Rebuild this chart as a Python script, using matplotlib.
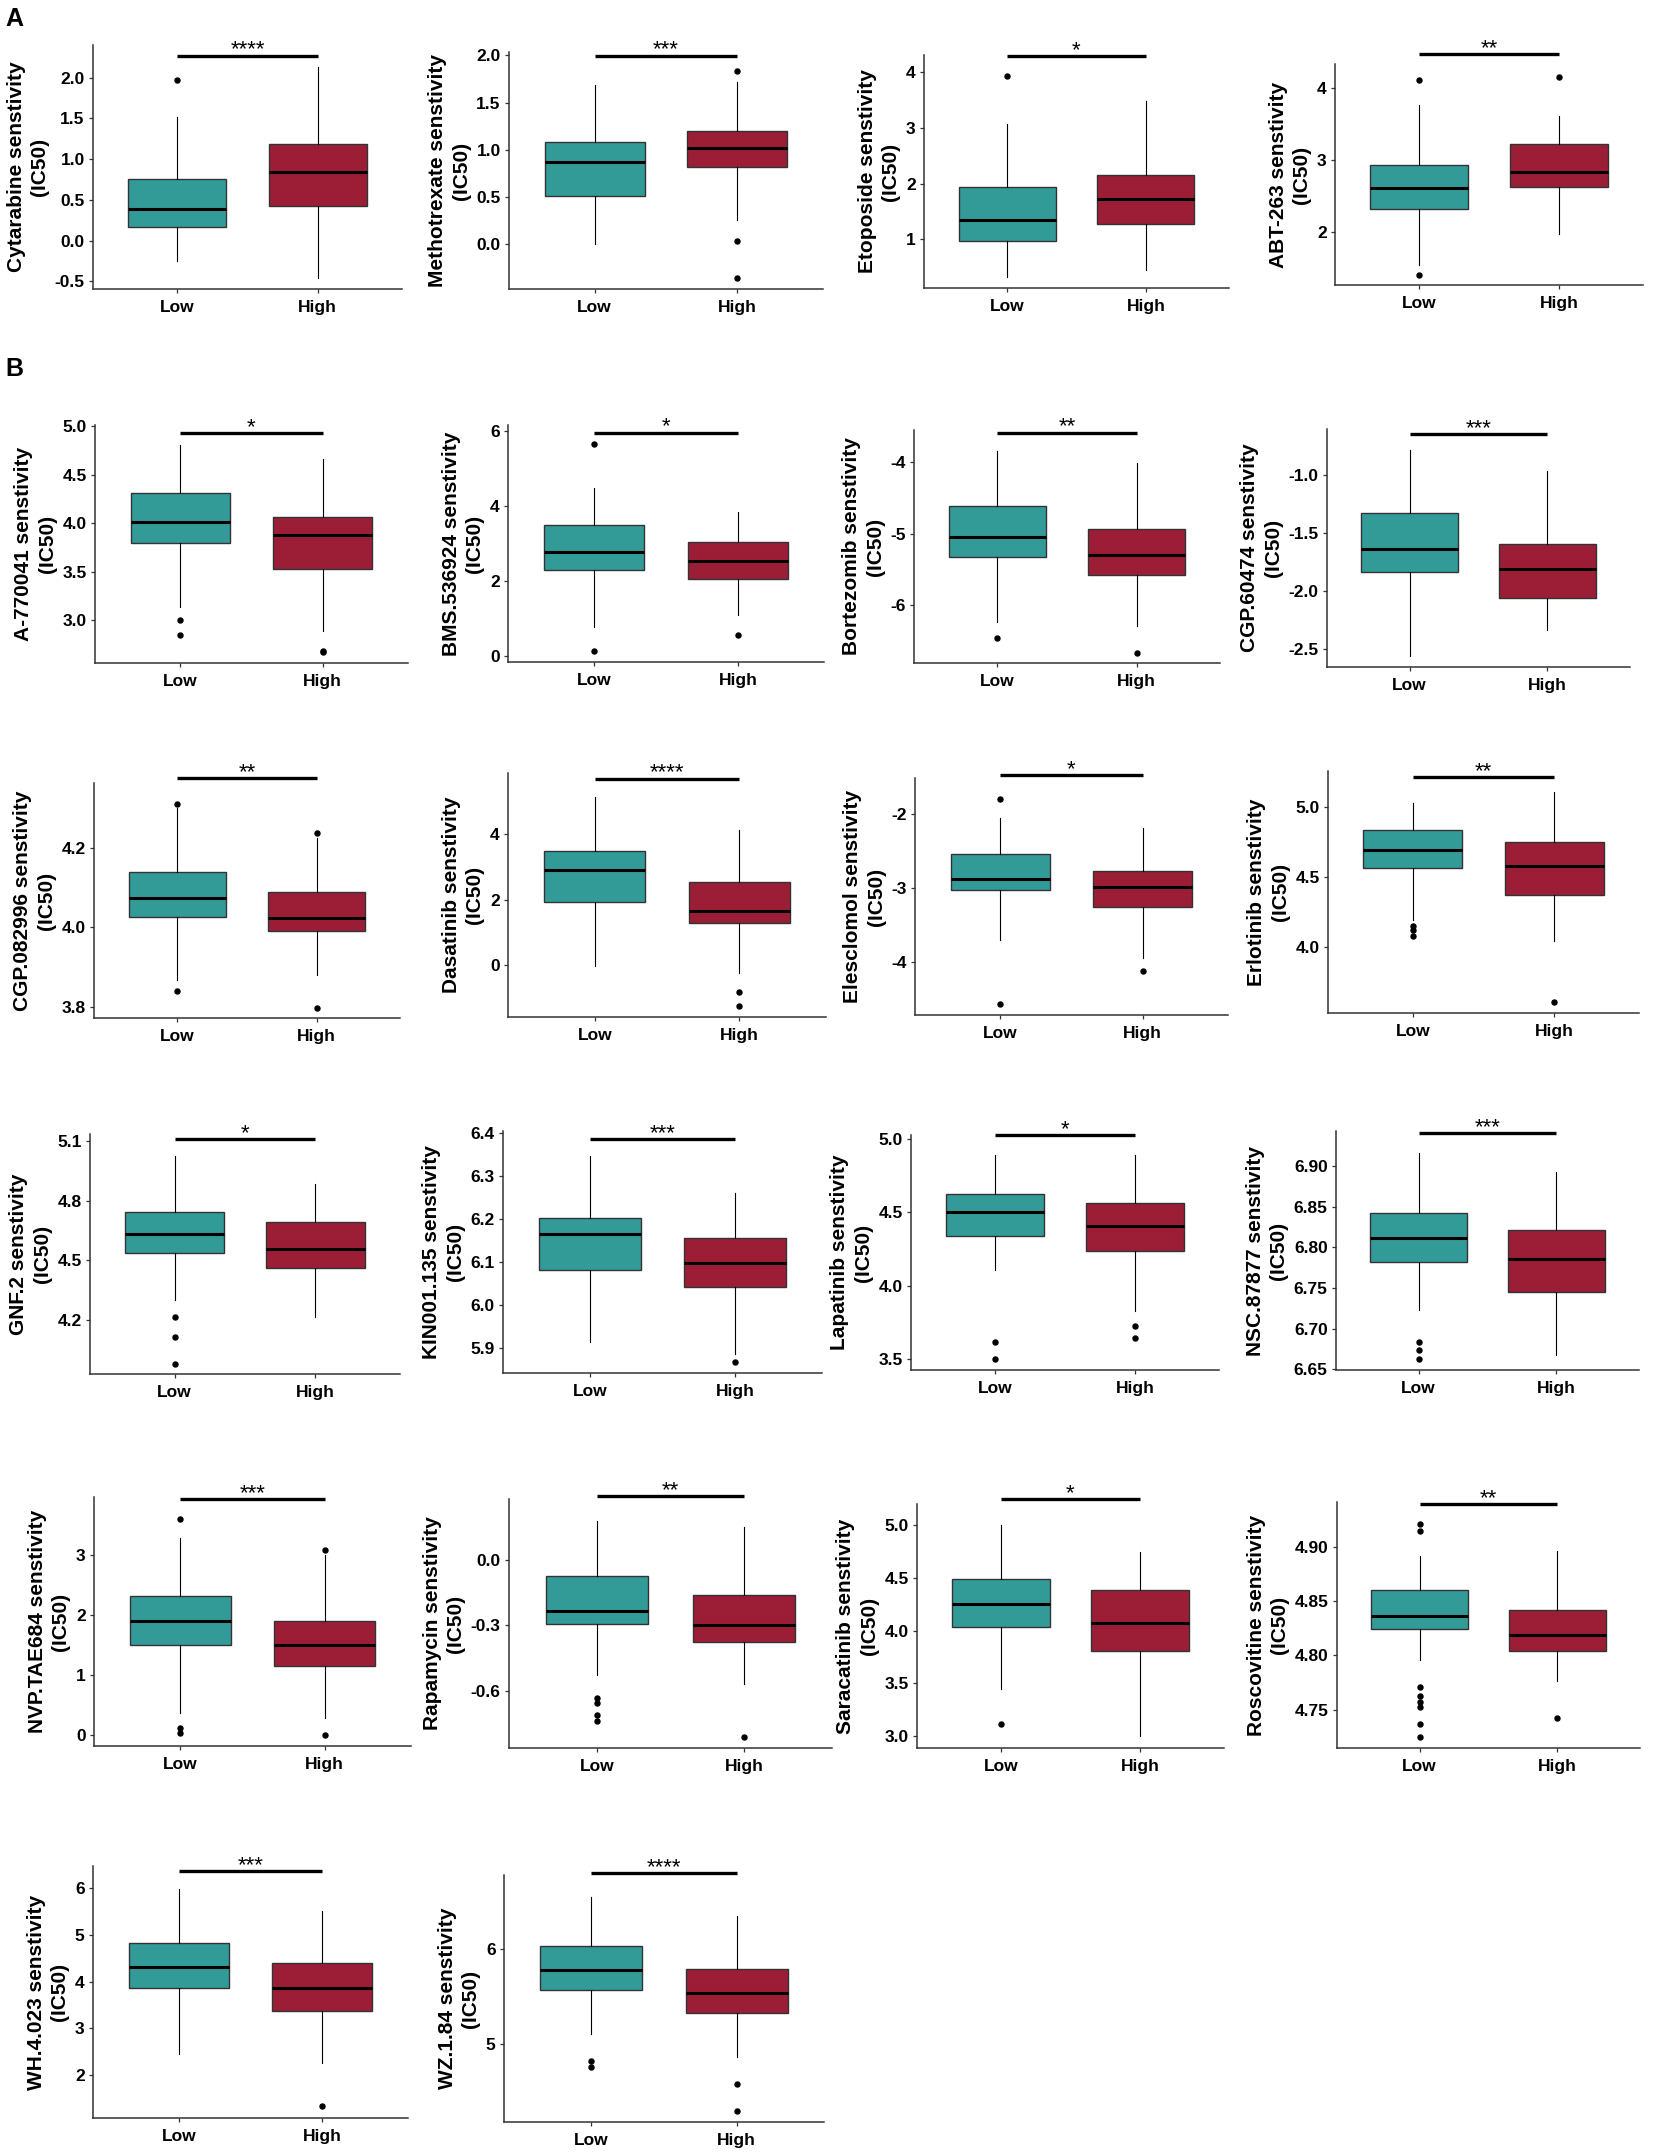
import matplotlib.pyplot as plt

plt.rcParams['font.family'] = ['Liberation Sans', 'DejaVu Sans']
plt.rcParams['axes.unicode_minus'] = False

# drugs, significance and box statistics (Low / High risk groups)
drugs = ['Cytarabine', 'Methotrexate', 'Etoposide', 'ABT-263',
         'A-770041', 'BMS.536924', 'Bortezomib', 'CGP.60474',
         'CGP.082996', 'Dasatinib', 'Elesclomol', 'Erlotinib',
         'GNF.2', 'KIN001.135', 'Lapatinib', 'NSC.87877',
         'NVP.TAE684', 'Rapamycin', 'Saracatinib', 'Roscovitine',
         'WH.4.023', 'WZ.1.84']
stars = ['****', '***', '*', '**', '*', '*', '**', '***', '**', '****', '*',
         '**', '*', '***', '*', '***', '***', '**', '*', '**', '***', '****']
groups = ['Low', 'High']

low_q1 = [0.164, 0.515, 0.964, 2.312, 3.794, 2.29, -5.327, -1.835, 4.027, 1.93, -3.036,
          4.568, 4.538, 6.082, 4.339, 6.782, 1.495, -0.294, 4.038, 4.824, 3.864, 5.564]
low_med = [0.385, 0.868, 1.353, 2.605, 4.007, 2.77, -5.051, -1.642, 4.074, 2.904, -2.883,
           4.696, 4.632, 6.164, 4.5, 6.811, 1.906, -0.234, 4.256, 4.836, 4.321, 5.78]
low_q3 = [0.758, 1.08, 1.934, 2.926, 4.306, 3.487, -4.607, -1.327, 4.139, 3.49, -2.545,
          4.836, 4.743, 6.203, 4.623, 6.842, 2.322, -0.072, 4.49, 4.86, 4.836, 6.035]
low_lo = [-0.246, 0.0, 0.317, 1.53, 3.137, 0.779, -6.234, -2.561, 3.869, -0.02, -3.707,
          4.197, 4.302, 5.914, 4.105, 6.723, 0.372, -0.527, 3.443, 4.796, 2.45, 5.106]
low_hi = [1.52, 1.683, 3.066, 3.767, 4.804, 4.469, -3.841, -0.78, 4.30, 5.14, -2.054,
          5.033, 5.025, 6.347, 4.889, 6.916, 3.278, 0.182, 5.0, 4.891, 5.993, 6.557]
low_out = [[1.97], [], [3.934], [4.116, 1.395], [3.007, 2.845], [5.637, 0.133], [-6.458], [],
           [4.31, 3.84], [], [-1.797, -4.572], [4.152, 4.121, 4.083], [4.218, 4.115, 3.983], [],
           [3.614, 3.498], [6.683, 6.673, 6.662], [3.6, 0.122, 0.044],
           [-0.636, -0.657, -0.712, -0.738], [3.117],
           [4.921, 4.914, 4.771, 4.763, 4.757, 4.753, 4.737, 4.725], [], [4.816, 4.752]]

high_q1 = [0.42, 0.819, 1.275, 2.619, 3.526, 2.062, -5.579, -2.066, 3.992, 1.29, -3.266,
           4.371, 4.462, 6.041, 4.236, 6.745, 1.15, -0.378, 3.804, 4.804, 3.357, 5.33]
high_med = [0.836, 1.016, 1.719, 2.837, 3.88, 2.54, -5.299, -1.809, 4.024, 1.655, -2.986,
            4.584, 4.56, 6.098, 4.409, 6.785, 1.506, -0.297, 4.076, 4.819, 3.871, 5.539]
high_q3 = [1.18, 1.203, 2.16, 3.228, 4.062, 3.053, -4.939, -1.595, 4.088, 2.538, -2.77,
           4.755, 4.695, 6.155, 4.561, 6.821, 1.906, -0.159, 4.386, 4.842, 4.407, 5.791]
high_lo = [-0.455, 0.258, 0.449, 1.967, 2.887, 1.097, -6.285, -2.341, 3.88, -0.254, -3.946,
           4.043, 4.218, 5.885, 3.825, 6.668, 0.289, -0.568, 3.0, 4.777, 2.25, 4.858]
high_hi = [2.135, 1.722, 3.479, 3.609, 4.656, 3.85, -4.009, -0.968, 4.224, 4.142, -2.185,
           5.112, 4.882, 6.26, 4.889, 6.893, 3.0, 0.152, 4.741, 4.896, 5.521, 6.358]
high_out = [[], [1.838, 0.035, -0.356], [], [4.158], [2.68, 2.67], [0.558], [-6.668], [],
            [4.236, 3.799], [-0.812, -1.259], [-4.126], [3.61], [], [5.867], [3.725, 3.643], [],
            [3.072, 0.01], [-0.812], [], [4.743], [1.321], [4.574, 4.28]]

# y axis ranges, height of the comparison bar and tick labels
y_lo = [-0.594, -0.473, 0.126, 1.256, 2.56, -0.15, -6.808, -2.659, 3.773, -1.584, -4.721,
        3.532, 3.932, 5.842, 3.425, 6.649, -0.178, -0.864, 2.889, 4.715, 1.071, 4.167]
y_hi = [2.40, 2.036, 4.305, 4.34, 5.01, 6.15, -3.547, -0.601, 4.362, 5.868, -1.514,
        5.259, 5.133, 6.404, 5.027, 6.943, 3.961, 0.282, 5.199, 4.941, 6.479, 6.791]
bar_y = [2.27, 1.997, 4.287, 4.474, 4.93, 5.95, -3.584, -0.647, 4.374, 5.695, -1.477,
         5.216, 5.108, 6.385, 5.025, 6.940, 3.922, 0.296, 5.244, 4.939, 6.371, 6.809]
yticks = [['-0.5', '0.0', '0.5', '1.0', '1.5', '2.0'], ['0.0', '0.5', '1.0', '1.5', '2.0'],
          ['1', '2', '3', '4'], ['2', '3', '4'],
          ['3.0', '3.5', '4.0', '4.5', '5.0'], ['0', '2', '4', '6'], ['-6', '-5', '-4'],
          ['-2.5', '-2.0', '-1.5', '-1.0'],
          ['3.8', '4.0', '4.2'], ['0', '2', '4'], ['-4', '-3', '-2'], ['4.0', '4.5', '5.0'],
          ['4.2', '4.5', '4.8', '5.1'], ['5.9', '6.0', '6.1', '6.2', '6.3', '6.4'],
          ['3.5', '4.0', '4.5', '5.0'], ['6.65', '6.70', '6.75', '6.80', '6.85', '6.90'],
          ['0', '1', '2', '3'], ['-0.6', '-0.3', '0.0'], ['3.0', '3.5', '4.0', '4.5', '5.0'],
          ['4.75', '4.80', '4.85', '4.90'],
          ['2', '3', '4', '5', '6'], ['5', '6']]

# axes boxes in pixels: left, right, top, bottom
W, H = 1654, 2155
boxes = [(93, 402, 45, 289), (509, 823, 52, 289), (924, 1229, 55, 288), (1335, 1643, 64, 285),
         (95, 408, 425, 663), (508, 824, 425, 662), (914, 1220, 430, 663), (1327, 1630, 429, 667),
         (94, 400, 783, 1018), (508, 826, 773, 1017), (915, 1228, 778, 1015), (1328, 1639, 771, 1013),
         (90, 400, 1134, 1374), (503, 822, 1131, 1373), (911, 1219, 1135, 1370), (1336, 1639, 1131, 1370),
         (94, 411, 1497, 1746), (509, 832, 1499, 1748), (917, 1224, 1504, 1748), (1337, 1640, 1502, 1748),
         (93, 408, 1866, 2118), (504, 824, 1875, 2122)]

colors = ['#329b98', '#9b1e36']
edge = '#333333'

fig = plt.figure(figsize=(W / 100, H / 100), dpi=100)

for i, name in enumerate(drugs):
    l, r, t, b = boxes[i]
    ax = fig.add_axes([l / W, 1 - b / H, (r - l) / W, (b - t) / H])
    stats = [
        dict(med=low_med[i], q1=low_q1[i], q3=low_q3[i], whislo=low_lo[i], whishi=low_hi[i],
             fliers=low_out[i]),
        dict(med=high_med[i], q1=high_q1[i], q3=high_q3[i], whislo=high_lo[i], whishi=high_hi[i],
             fliers=high_out[i]),
    ]
    bp = ax.bxp(stats, positions=[1, 2], widths=0.7, patch_artist=True, showcaps=False,
                boxprops=dict(edgecolor=edge, linewidth=1.0),
                medianprops=dict(color='black', linewidth=2.2),
                whiskerprops=dict(color='black', linewidth=0.8),
                flierprops=dict(marker='o', markerfacecolor='black', markeredgecolor='black',
                                markersize=3.6))
    for patch, c in zip(bp['boxes'], colors):
        patch.set_facecolor(c)

    ax.set_xlim(0.4, 2.6)
    ax.set_ylim(y_lo[i], y_hi[i])
    ax.set_xticks([1, 2], groups)
    ax.set_yticks([float(v) for v in yticks[i]], yticks[i])
    for lab in ax.get_xticklabels() + ax.get_yticklabels():
        lab.set_fontweight('bold')
    ax.tick_params(labelsize=12.5, length=3, width=0.9, color=edge, labelcolor='black', pad=3)
    ax.tick_params(axis='x', pad=5)
    ax.spines[['top', 'right']].set_visible(False)
    for s in ['left', 'bottom']:
        ax.spines[s].set_color(edge)
        ax.spines[s].set_linewidth(1.1)
    ax.set_ylabel(name + ' senstivity\n(IC50)', fontsize=15, fontweight='bold', labelpad=4,
                  linespacing=1.3)

    # comparison bar with significance stars
    ax.plot([1, 2], [bar_y[i], bar_y[i]], color='black', linewidth=2.4, clip_on=False,
            solid_capstyle='butt')
    ax.annotate(stars[i], (1.5, bar_y[i]), xytext=(0, 0), textcoords='offset points',
                ha='center', va='baseline', fontsize=16, annotation_clip=False)

fig.text(5 / W, 1 - 7 / H, 'A', fontsize=18, fontweight='bold', va='top', ha='left')
fig.text(5 / W, 1 - 357 / H, 'B', fontsize=18, fontweight='bold', va='top', ha='left')

fig.savefig('out.png', dpi=100)
